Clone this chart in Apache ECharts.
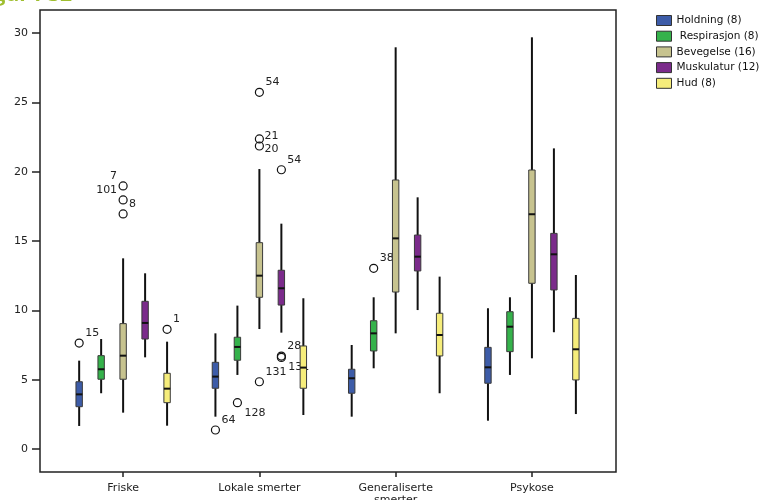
<!DOCTYPE html>
<html>
<head>
<meta charset="utf-8">
<script src="https://cdn.jsdelivr.net/npm/echarts@6.0.0/dist/echarts.min.js"></script>
<style>
  html, body { margin: 0; padding: 0; background: #fff; }
  #chart { width: 770px; height: 500px; }
</style>
</head>
<body>
<div id="chart"></div>
<script>
// groups on the x axis
const groups = ["Friske", "Lokale smerter", "Generaliserte\nsmerter", "Psykose"];
const seriesNames = ["Holdning (8)", " Respirasjon (8)", "Bevegelse (16)", "Muskulatur (12)", "Hud (8)"];
const yTicks = [0, 5, 10, 15, 20, 25, 30];

// per group: [whisker low, Q1, median, Q3, whisker high]
const holdning = [
  [1.66, 3.05, 3.94, 4.85, 6.37],
  [2.33, 4.38, 5.22, 6.25, 8.34],
  [2.33, 4.02, 5.10, 5.75, 7.50],
  [2.04, 4.74, 5.89, 7.33, 10.15],
];
const respirasjon = [
  [4.02, 5.03, 5.75, 6.73, 7.93],
  [5.34, 6.40, 7.36, 8.06, 10.34],
  [5.82, 7.07, 8.34, 9.25, 10.94],
  [5.34, 7.02, 8.82, 9.90, 10.94],
];
const bevegelse = [
  [2.62, 5.03, 6.73, 9.04, 13.75],
  [8.65, 10.94, 12.50, 14.88, 20.19],
  [8.34, 11.32, 15.19, 19.40, 28.97],
  [6.54, 11.95, 16.93, 20.12, 29.69],
];
const muskulatur = [
  [6.61, 7.93, 9.09, 10.65, 12.67],
  [8.39, 10.38, 11.59, 12.89, 16.25],
  [10.02, 12.84, 13.87, 15.43, 18.15],
  [8.42, 11.47, 14.04, 15.55, 21.68],
];
const hud = [
  [1.68, 3.34, 4.35, 5.46, 7.74],
  [2.45, 4.38, 5.87, 7.43, 10.87],
  [4.02, 6.71, 8.22, 9.79, 12.43],
  [2.52, 4.98, 7.19, 9.42, 12.55],
];

// outliers: [group index, value, case label]
const holdningOut = [[0, 7.64, "15"], [1, 1.37, "64"]];
const respirasjonOut = [[1, 3.34, "128"], [2, 13.03, "38"]];
const bevegelseOut = [
  [0, 18.97, "7"], [0, 17.96, "101"], [0, 16.95, "8"],
  [1, 25.72, "54"], [1, 22.36, "21"], [1, 21.85, "20"], [1, 4.85, "131"],
];
const muskulaturOut = [[1, 20.14, "54"], [1, 6.70, "28"], [1, 6.60, "131"]];
const hudOut = [[0, 8.63, "1"]];

const boxes = [holdning, respirasjon, bevegelse, muskulatur, hud];
const outs = [holdningOut, respirasjonOut, bevegelseOut, muskulaturOut, hudOut];
const colors = ["#3d5ca8", "#35b24b", "#c7c38f", "#7b2b8b", "#f6ed7b"];

// where a case label sits next to its circle (default upper right)
const labelSide = {
  "2:0:7": "ul",
  "2:0:101": "ul",
  "2:1:21": "rUp",
  "2:1:20": "rDown",
  "1:1:128": "dr",
  "3:1:131": "dr",
};
const sides = {
  ur: [6, -10, "left"],
  ul: [-6, -10, "right"],
  rUp: [5, -3, "left"],
  rDown: [5, 3, "left"],
  dr: [7, 10, "left"],
};

const step = 0.1613; // spacing between boxes inside a group, in x units
const fontFam = "DejaVu Sans";

function boxRender(k) {
  const off = (k - 2) * step;
  return function (params, api) {
    const x = api.value(0) + off;
    const lo = api.coord([x, api.value(1)]);
    const q1 = api.coord([x, api.value(2)]);
    const md = api.coord([x, api.value(3)]);
    const q3 = api.coord([x, api.value(4)]);
    const hi = api.coord([x, api.value(5)]);
    const hw = 3.2;
    const line = { stroke: "#111", lineWidth: 2 };
    return {
      type: "group",
      children: [
        { type: "line", shape: { x1: lo[0], y1: lo[1], x2: q1[0], y2: q1[1] }, style: line },
        { type: "line", shape: { x1: q3[0], y1: q3[1], x2: hi[0], y2: hi[1] }, style: line },
        {
          type: "rect",
          shape: { x: q3[0] - hw, y: q3[1], width: hw * 2, height: q1[1] - q3[1] },
          style: { fill: api.visual("color"), stroke: "#3a3a3a", lineWidth: 1 },
        },
        { type: "line", shape: { x1: md[0] - hw, y1: md[1], x2: md[0] + hw, y2: md[1] }, style: line },
      ],
    };
  };
}

function outRender(k) {
  const off = (k - 2) * step;
  return function (params, api) {
    const g = api.value(0);
    const p = api.coord([g + off, api.value(1)]);
    const lab = outs[k][params.dataIndex][2];
    const s = sides[labelSide[k + ":" + (g - 1) + ":" + lab] || "ur"];
    return {
      type: "group",
      children: [
        { type: "circle", shape: { cx: p[0], cy: p[1], r: 4 }, style: { fill: "none", stroke: "#111", lineWidth: 1.2 } },
        {
          type: "text",
          style: {
            text: lab, x: p[0] + s[0], y: p[1] + s[1],
            align: s[2], verticalAlign: "middle",
            fill: "#222", font: "11px '" + fontFam + "'",
          },
        },
      ],
    };
  };
}

const series = [];
boxes.forEach(function (b, k) {
  series.push({
    name: seriesNames[k],
    type: "custom",
    itemStyle: { color: colors[k] },
    encode: { x: 0, y: [1, 2, 3, 4, 5] },
    renderItem: boxRender(k),
    data: b.map(function (v, i) { return [i + 1].concat(v); }),
  });
  series.push({
    name: "out" + k,
    type: "custom",
    silent: true,
    encode: { x: 0, y: 1 },
    renderItem: outRender(k),
    data: outs[k].map(function (o) { return [o[0] + 1, o[1]]; }),
  });
});

const chart = echarts.init(document.getElementById("chart"));
chart.setOption({
  animation: false,
  graphic: [
    {
      type: "text",
      style: {
        text: "Figur I-32", x: 72, y: 6, align: "right", verticalAlign: "bottom",
        fill: "#9fbe2f", font: "bold 21px 'Open Sans'",
      },
    },
  ],
  legend: {
    data: seriesNames,
    orient: "vertical",
    left: 651,
    top: 10,
    icon: "rect",
    itemWidth: 15,
    itemHeight: 10,
    itemGap: 4.7,
    itemStyle: { borderColor: "#333", borderWidth: 1 },
    textStyle: { fontFamily: fontFam, fontSize: 10.5, color: "#111", lineHeight: 10 },
    selectedMode: false,
  },
  grid: {
    left: 40,
    right: 154,
    top: 10,
    bottom: 28,
    show: true,
    borderColor: "#222",
    borderWidth: 1.5,
    outerBoundsMode: "none",
  },
  xAxis: {
    type: "value",
    min: 0.39,
    max: 4.617,
    splitLine: { show: false },
    axisLine: { show: false, onZero: false },
    axisTick: { show: true, customValues: [1, 2, 3, 4], length: 5, lineStyle: { color: "#222", width: 1.5 } },
    axisLabel: {
      customValues: [1, 2, 3, 4],
      formatter: function (v) { return groups[Math.round(v) - 1]; },
      margin: 10,
      fontFamily: fontFam,
      fontSize: 11,
      color: "#222",
      lineHeight: 12,
    },
  },
  yAxis: {
    type: "value",
    min: -1.66,
    max: 31.66,
    splitLine: { show: false },
    axisLine: { show: false, onZero: false },
    axisTick: { show: true, customValues: yTicks, length: 8, lineStyle: { color: "#222", width: 1.5 } },
    axisLabel: {
      customValues: yTicks,
      margin: 12,
      fontFamily: fontFam,
      fontSize: 11,
      color: "#222",
    },
  },
  series: series,
});
</script>
</body>
</html>
